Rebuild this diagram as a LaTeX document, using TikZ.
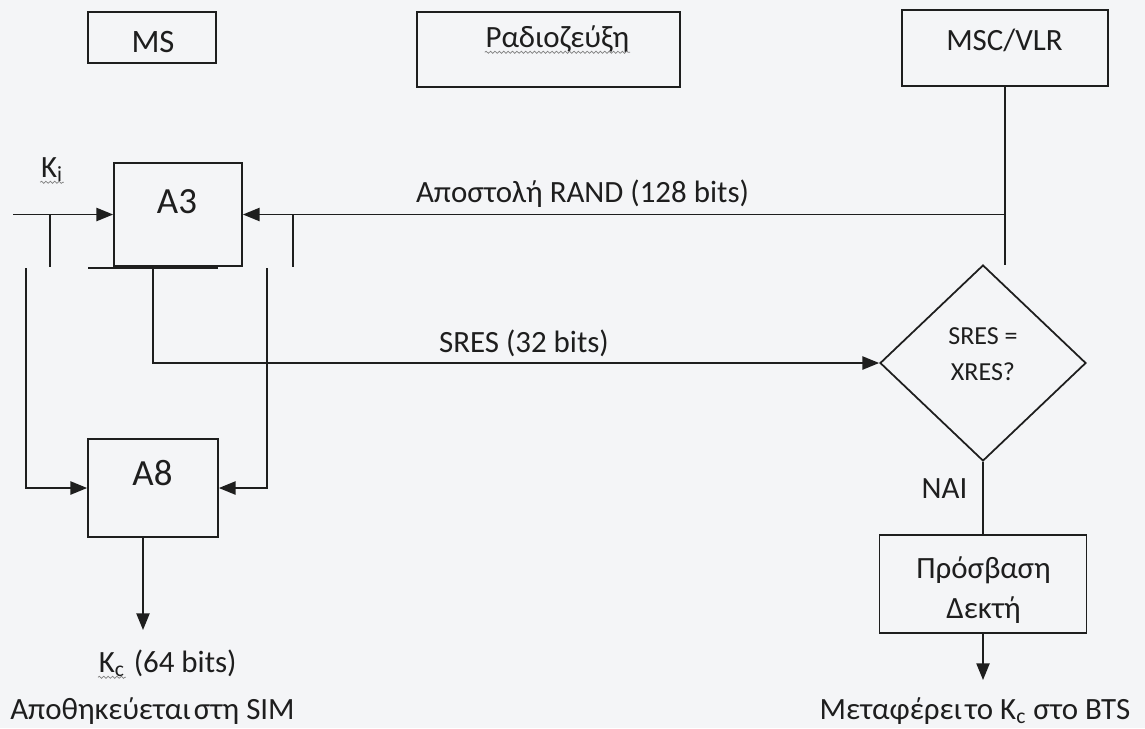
\documentclass[tikz,border=0pt]{standalone}
\usepackage{fontspec}
\setmainfont{Carlito}
\usetikzlibrary{arrows.meta,shapes.geometric,decorations.pathmorphing}
\definecolor{paper}{RGB}{244,245,247}
\definecolor{ink}{RGB}{30,30,30}
\begin{document}
    \begin{tikzpicture}[x=0.02cm,y=-0.02cm,line width=1pt,color=ink,
        box/.style={draw,rectangle,inner sep=0pt},
        lbl/.style={inner sep=0pt,anchor=base,font=\fontsize{17.6}{21}\selectfont},
        arr/.style={-{Triangle[length=9.5pt,width=7.5pt]}},
        spell/.style={gray,line width=0.4pt,decorate,decoration={snake,amplitude=0.6pt,segment length=2.5pt}}]
        \path[fill=paper,use as bounding box] (0,0) rectangle (1145,728);
        \node[box,minimum width=2.56cm,minimum height=1.02cm] (ms) at (152,37.5) {};
        \node[box,minimum width=5.26cm,minimum height=1.5cm] (radio) at (548.5,49.5) {};
        \node[box,minimum width=4.12cm,minimum height=1.52cm] (msc) at (1005,48) {};
        \node[box,minimum width=2.56cm,minimum height=2.06cm] (athree) at (178,214.5) {};
        \node[box,minimum width=2.6cm,minimum height=1.96cm] (aeight) at (153,488) {};
        \node[draw,diamond,inner sep=0pt,minimum width=4.12cm,minimum height=3.92cm] (check) at (983,363) {};
        \node[box,minimum width=4.14cm,minimum height=1.96cm] (access) at (983,584) {};
        \node[lbl,font=\fontsize{18.6}{22}\selectfont] (mstxt) at (153,52) {MS};
        \node[lbl] (radiotxt) at (557.5,47) {Ραδιοζεύξη};
        \node[lbl] (msctxt) at (1004.5,50) {MSC/VLR};
        \node[lbl,font=\fontsize{21}{24}\selectfont] (athreetxt) at (177,213) {A3};
        \node[lbl,font=\fontsize{21}{24}\selectfont] (aeighttxt) at (152.5,485) {A8};
        \node[lbl] (kitxt) at (52,177) {K\textsubscript{i}};
        \node[lbl] (randtxt) at (582.5,202) {Αποστολή RAND (128 bits)};
        \node[lbl] (srestxt) at (524,352) {SRES (32 bits)};
        \node[inner sep=0pt,align=center,font=\fontsize{14.8}{20.5}\selectfont] (checktxt) at (983,354) {SRES =\\XRES?};
        \node[lbl] (naitxt) at (944.5,498) {NAI};
        \node[inner sep=0pt,align=center,font=\fontsize{17.6}{22.7}\selectfont] (accesstxt) at (983.5,590) {Πρόσβαση\\Δεκτή};
        \node[lbl,anchor=base west] (kctxt) at (98,672) {K\textsubscript{c}};
        \node[lbl,anchor=base west] (kcbits) at ([xshift=4pt]kctxt.base east) {(64 bits)};
        \node[lbl] (simtxt) at (152.5,719) {Αποθηκεύεται\hspace{0.1em}στη SIM};
        \node[lbl] (btstxt) at (975,719) {Μεταφέρει\hspace{0.1em}το K\textsubscript{c} στο BTS};
        \foreach \w in {kitxt,radiotxt,kctxt}
            \draw[spell] ([yshift=-3pt]\w.base west) -- ([yshift=-3pt]\w.base east);
        \coordinate (kin) at (13,214.5);
        \coordinate (mscend) at (1005,265);
        \coordinate (kcend) at (143,630);
        \coordinate (btsend) at (983,680);
        \draw[arr] (kin) -- (athree.west);
        \draw (msc.south) -- (mscend);
        \draw[arr] (msc.south |- athree.east) -- (athree.east);
        \draw (50,214.5) -- (50,267) (293,214.5) -- (293,267) (88,268) -- (218,268);
        \draw[arr] (26,268) |- (aeight.west);
        \draw[arr] (267,268) |- (aeight.east);
        \draw[arr] (153,268) |- (check.west);
        \draw (check.south) -- (access.north);
        \draw[arr] (access.south) -- (btsend);
        \draw[arr] (aeight.south -| kcend) -- (kcend);
    \end{tikzpicture}
\end{document}
